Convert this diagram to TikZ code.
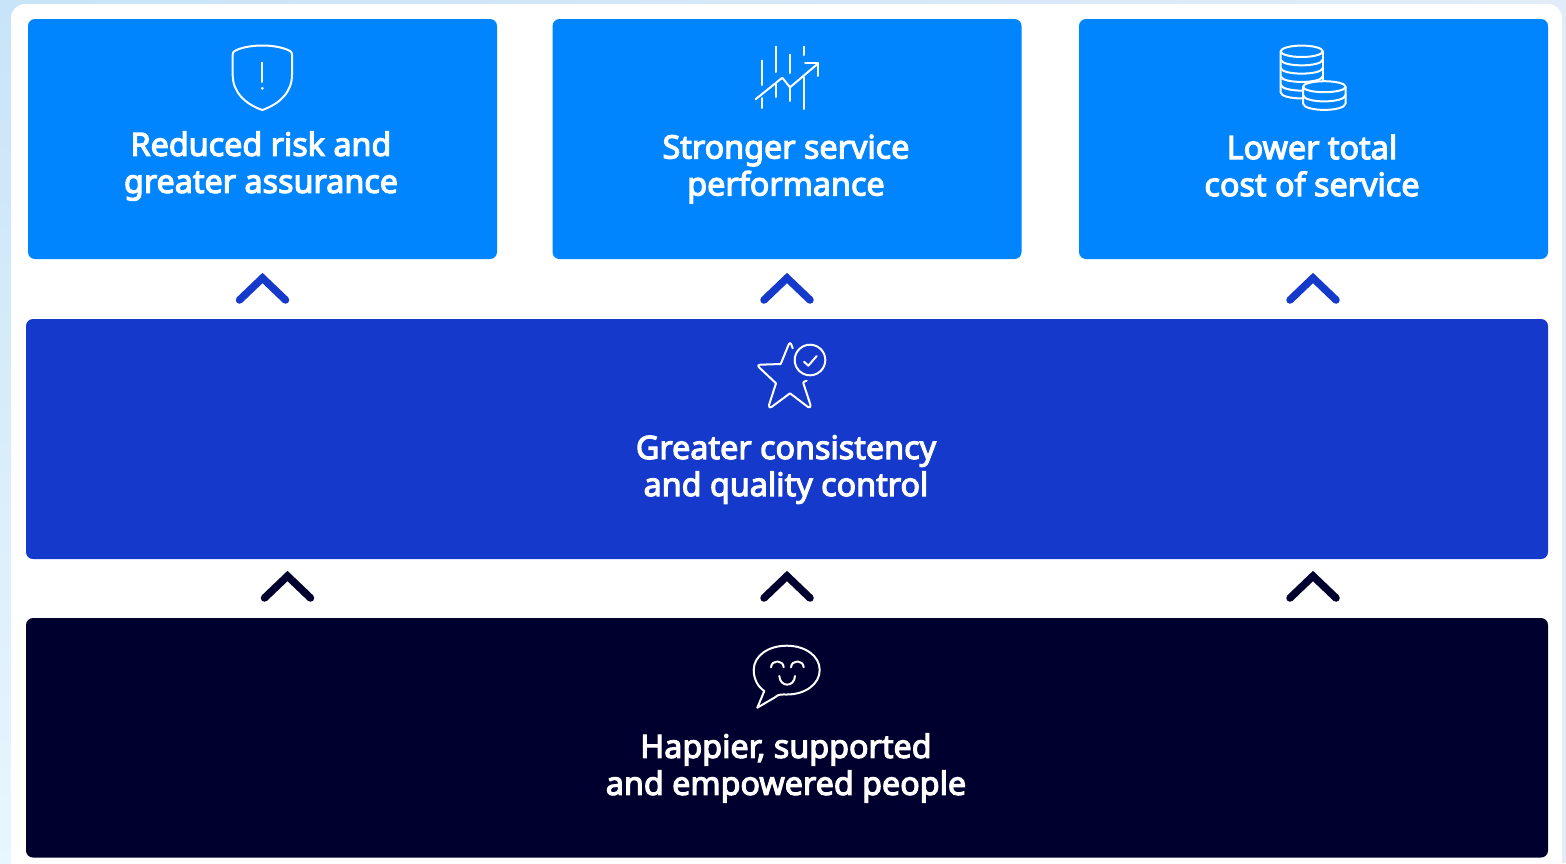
\documentclass[tikz,border=0pt]{standalone}
\usepackage{fontspec}
\setmainfont{Noto Sans}
\newfontfamily\capfont[FakeBold=3.5]{Noto Sans}
\definecolor{skyb}{HTML}{0085FF}
\definecolor{royal}{HTML}{1539CB}
\definecolor{ink}{HTML}{00002E}
\definecolor{bgtop}{HTML}{C8E4F8}
\definecolor{bgbot}{HTML}{E8F6FE}
\definecolor{bgright}{HTML}{E2ECF9}
\tikzset{
  box/.style={anchor=north west,inner sep=0pt,outer sep=0pt,rounded corners=7pt,minimum height=240pt},
  smallbox/.style={box,fill=skyb,minimum width=469pt},
  widebox/.style={box,minimum width=1522pt},
  caption/.style={text=white,font=\capfont\fontsize{32.3}{37}\selectfont,align=center,inner sep=0pt},
  icon/.style={draw=white,line width=2pt,line cap=round,line join=round},
  chev/.style={line width=7.5pt,line cap=round,line join=miter}
}
\newcommand{\chevron}[3]{%
  \coordinate (#1) at (#2);
  \draw[chev,draw=#3] ([shift={(-23,22)}]#1) -- (#1) -- ([shift={(23,22)}]#1);}
\begin{document}
\begin{tikzpicture}[x=1pt,y=-1pt]
\useasboundingbox (0,0) rectangle (1566,863);
% page backdrop
\shade[top color=bgtop,bottom color=bgbot] (0,0) rectangle (40,863);
\fill[bgright] (40,0) rectangle (1566,863);
\shade[left color=bgtop,right color=bgright] (0,0) rectangle (1566,20);
\fill[white,rounded corners=14pt] (11,4) rectangle (1562,900);
% boxes
\node[smallbox] (risk) at (28,19) {};
\node[smallbox] (perf) at (552.5,19) {};
\node[smallbox] (cost) at (1079,19) {};
\node[widebox,fill=royal] (qual) at (26,319) {};
\node[widebox,fill=ink,minimum height=239.5pt] (ppl) at (26,618) {};
% captions
\node[caption] (t1) at (261,166) {Reduced risk and\\greater assurance};
\node[caption] (t2) at (786,169) {Stronger service\\performance};
\node[caption] (t3) at (1312,165.5) {Lower total\\cost of service};
\node[caption] (t4) at (786,469.5) {Greater consistency\\and quality control};
\node[caption] (t5) at (786,768) {Happier, supported\\and empowered people};
% chevrons
\chevron{a1}{262.5,278}{royal}
\chevron{a2}{787,278}{royal}
\chevron{a3}{1313,278}{royal}
\chevron{b1}{287.5,576}{ink}
\chevron{b2}{787,576}{ink}
\chevron{b3}{1313,576}{ink}
% shield
\draw[icon] (262.3,45.5) .. controls (250,45.5) and (240,48) .. (234.5,51)
  .. controls (233,52) and (232.7,53) .. (232.7,55) -- (232.7,75)
  .. controls (232.7,92) and (245,104) .. (262.3,110)
  .. controls (279.6,104) and (292,92) .. (292,75) -- (292,55)
  .. controls (292,53) and (291.6,52) .. (290,51)
  .. controls (284.6,48) and (274.6,45.5) .. (262.3,45.5) -- cycle;
\draw[icon] (262.3,62.5) -- (262.3,82);
\fill[white] (262.3,88.3) circle (1.6);
% chart
\draw[icon] (762.3,60.5) -- (762.3,85) (762.3,98) -- (762.3,108);
\draw[icon] (776.3,46.5) -- (776.3,72) (776.3,84) -- (776.3,97);
\draw[icon] (790.3,54.5) -- (790.3,73) (790.3,88) -- (790.3,101);
\draw[icon] (804,46.5) -- (804,55) (804,77) -- (804,109);
\draw[icon] (755.5,99.3) -- (782.3,77.7) -- (790,87.3) -- (818.3,63.3);
\draw[icon] (805,63.3) -- (818.3,63.3) -- (818.3,76);
% coins
\draw[icon] (1301.7,51.3) ellipse (21 and 5.7);
\draw[icon] (1280.7,51.3) -- (1280.7,92.5)
  .. controls (1280.7,96) and (1290,98.5) .. (1303,98.5);
\draw[icon] (1322.7,51.3) -- (1322.7,81);
\foreach \yy in {59.7,68,76.3}
  \draw[icon] (1280.7,\yy) .. controls (1282,\yy+7.5) and (1321.4,\yy+7.5) .. (1322.7,\yy);
\draw[icon] (1280.7,84.6) .. controls (1281.5,88.5) and (1290,90.5) .. (1303,90.7);
\draw[icon] (1324.3,86.7) ellipse (21.3 and 5.5);
\draw[icon] (1303,86.7) -- (1303,103.5) .. controls (1304,112) and (1344.6,112) .. (1345.6,103.5) -- (1345.6,86.7);
\draw[icon] (1303,95) .. controls (1304,103.5) and (1344.6,103.5) .. (1345.6,95);
% star
\draw[icon] (792.7,348.3) -- (791.2,344.2) .. controls (790.6,342.8) and (789.4,342.8) .. (788.8,344.2)
  -- (780.7,364) -- (760,364.7) .. controls (758,364.8) and (757.5,366) .. (759,367.3)
  -- (776,383.3) -- (769,405) .. controls (768.5,407.5) and (770,408) .. (771.5,407)
  -- (790,393.3) -- (808,407) .. controls (810,408) and (811,407) .. (810.5,405)
  -- (803.3,383) .. controls (803.2,382) and (804,381.5) .. (806.7,380.7);
\draw[icon] (810,360) circle (15.3);
\draw[icon] (804,361.7) -- (808.3,365.7) -- (816.7,356);
% smile
\draw[icon] (764.3,691) .. controls (758,687) and (753.7,679) .. (753.7,670)
  .. controls (753.7,656) and (768,645.7) .. (786.7,645.7)
  .. controls (805.4,645.7) and (819.7,656) .. (819.7,670)
  .. controls (819.7,684) and (805.4,694.5) .. (786.7,694.5)
  .. controls (782,694.5) and (778,694) .. (775,697.3)
  -- (757.3,707.7) -- cycle;
\draw[icon] (771,667.3) .. controls (771.5,659.5) and (783.2,659.5) .. (783.7,667.3);
\draw[icon] (791,667.3) .. controls (791.5,659.5) and (803.2,659.5) .. (803.7,667.3);
\draw[icon] (779.3,676) .. controls (780,687.5) and (794.3,687.5) .. (795,676);
\end{tikzpicture}
\end{document}
